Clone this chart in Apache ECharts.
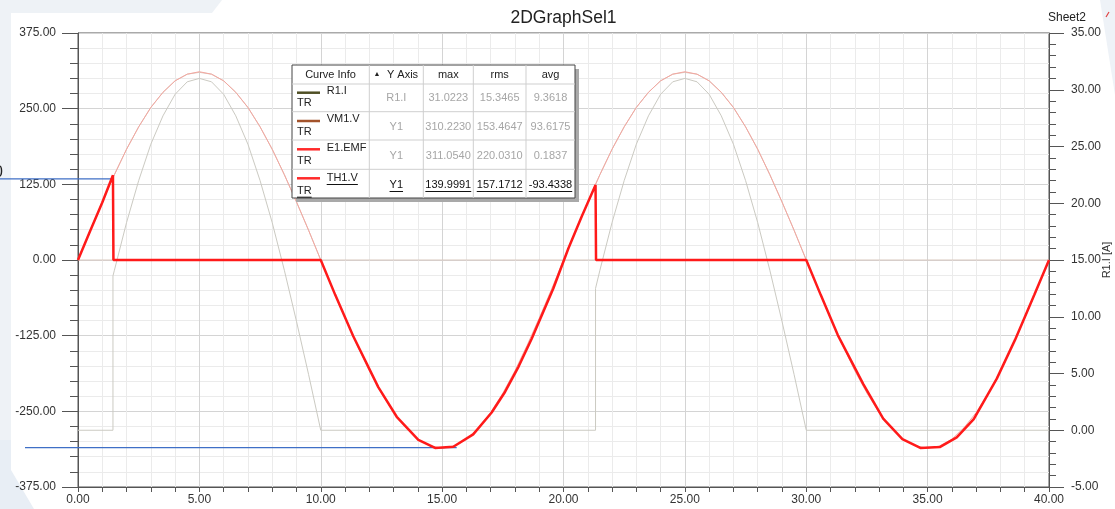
<!DOCTYPE html>
<html>
<head>
<meta charset="utf-8">
<script src="https://cdn.jsdelivr.net/npm/echarts@6/dist/echarts.min.js"></script>
<style>
  html, body { margin: 0; padding: 0; background: #ffffff; }
  #chart { width: 1115px; height: 509px; }
</style>
</head>
<body>
<div id="chart"></div>
<script>
const FONT = '"Liberation Sans", Arial, sans-serif';

// Source EMF E1 (V) over time (ms)
const emfTime = [0,0.5,1,1.5,2,2.5,3,3.5,4,4.5,5,5.5,6,6.5,7,7.5,8,8.5,9,9.5,10,
  10.5,11,11.5,12,12.5,13,13.5,14,14.5,15,15.5,16,16.5,17,17.5,18,18.5,19,19.5,20,
  20.5,21,21.5,22,22.5,23,23.5,24,24.5,25,25.5,26,26.5,27,27.5,28,28.5,29,29.5,30,
  30.5,31,31.5,32,32.5,33,33.5,34,34.5,35,35.5,36,36.5,37,37.5,38,38.5,39,39.5,40];
const emfVolt = [0,49,96,141,183,220,252,277,296,307,311,307,296,277,252,220,183,141,96,49,0,
  -49,-96,-141,-183,-220,-252,-277,-296,-307,-311,-307,-296,-277,-252,-220,-183,-141,-96,-49,0,
  49,96,141,183,220,252,277,296,307,311,307,296,277,252,220,183,141,96,49,0,
  -49,-96,-141,-183,-220,-252,-277,-296,-307,-311,-307,-296,-277,-252,-220,-183,-141,-96,-49,0];

// Conduction samples shared by VM1.V and R1.I
const condTime = [0,1.44,1.44,1.5,2,2.5,3,3.5,4,4.5,5,5.5,6,6.5,7,7.5,8,8.5,9,9.5,10,
  21.32,21.32,21.5,22,22.5,23,23.5,24,24.5,25,25.5,26,26.5,27,27.5,28,28.5,29,29.5,30,40];
const vmVolt = [0,0,136,141,183,220,252,277,296,307,310,307,296,277,252,220,183,141,96,49,0,
  0,125,141,183,220,252,277,296,307,310,307,296,277,252,220,183,141,96,49,0,0];
const r1Amp = [0,0,13.6,14.1,18.3,22.0,25.2,27.7,29.6,30.7,31.0,30.7,29.6,27.7,25.2,22.0,18.3,14.1,9.6,4.9,0,
  0,12.5,14.1,18.3,22.0,25.2,27.7,29.6,30.7,31.0,30.7,29.6,27.7,25.2,22.0,18.3,14.1,9.6,4.9,0,0];

// Thyristor TH1 voltage
const thTime = [0,0.5,1.0,1.44,1.46,10.0,10.6,11.34,12.37,13.13,14.02,14.71,15.46,16.28,17.04,17.59,18.15,18.69,19.58,20.2,20.75,21.32,21.34,
  30.0,30.6,31.3,32.35,33.17,33.96,34.7,35.5,36.2,36.9,37.85,38.6,39.4,40];
const thVolt = [0,48,95,140,0,0,-58,-126,-210,-259,-297,-310.5,-308.5,-288,-252,-218,-176,-130,-47,19,72,124,0,
  0,-58,-124,-205,-262,-296,-310.5,-309,-293,-263,-196,-132,-57,0];

// Horizontal cursors (value, end time)
const cursorLevels = [134, -310];
const cursorEndTime = [1.44, 15.6];

// Curve info table
const curveNames = ['R1.I', 'VM1.V', 'E1.EMF', 'TH1.V'];
const curveColors = ['#4f4f24', '#a3532b', '#ff2a2a', '#ff2a2a'];
const curveAxis = ['R1.I', 'Y1', 'Y1', 'Y1'];
const curveMax = ['31.0223', '310.2230', '311.0540', '139.9991'];
const curveRms = ['15.3465', '153.4647', '220.0310', '157.1712'];
const curveAvg = ['9.3618', '93.6175', '0.1837', '-93.4338'];
const tableHeaders = ['Curve Info', 'Y Axis', 'max', 'rms', 'avg'];

const pairs = (t, v) => t.map((x, i) => [x, v[i]]);

const chart = echarts.init(document.getElementById('chart'), null, { renderer: 'canvas' });

const axisText = { color: '#333', fontSize: 12, fontFamily: FONT };
const fmt2 = v => v.toFixed(2);

const option = {
  animation: false,
  backgroundColor: '#ffffff',
  textStyle: { fontFamily: FONT },
  grid: { left: 78, right: 66, top: 33, bottom: 22, containLabel: false, outerBoundsMode: 'none',
    show: true, borderColor: '#555', borderWidth: 1, backgroundColor: 'transparent' },
  xAxis: {
    type: 'value', min: 0, max: 40, interval: 5,
    axisLine: { show: true, onZero: false, lineStyle: { color: '#555' } },
    axisTick: { show: true, length: 5, lineStyle: { color: '#555' } },
    minorTick: { show: true, splitNumber: 5, length: 5, lineStyle: { color: '#555' } },
    axisLabel: Object.assign({ margin: 7, formatter: fmt2 }, axisText),
    splitLine: { show: true, lineStyle: { color: '#d4d4d4', width: 1 } },
    minorSplitLine: { show: true, lineStyle: { color: '#ebebeb', width: 1 } }
  },
  yAxis: [
    {
      type: 'value', min: -375, max: 375, interval: 125, position: 'left',
      axisLine: { show: true, onZero: false, lineStyle: { color: '#555' } },
      axisTick: { show: true, length: 16, lineStyle: { color: '#555' } },
      minorTick: { show: true, splitNumber: 5, length: 8, lineStyle: { color: '#555' } },
      axisLabel: Object.assign({ margin: 22, formatter: fmt2 }, axisText),
      splitLine: { show: true, lineStyle: { color: '#d4d4d4', width: 1 } },
      minorSplitLine: { show: true, lineStyle: { color: '#ebebeb', width: 1 } }
    },
    {
      type: 'value', min: -5, max: 35, interval: 5, position: 'right',
      name: 'R1.I [A]', nameLocation: 'middle', nameGap: 52, nameRotate: 90, nameMoveOverlap: false,
      nameTextStyle: { color: '#333', fontSize: 11, fontFamily: FONT },
      axisLine: { show: true, onZero: false, lineStyle: { color: '#555' } },
      axisTick: { show: true, length: 15, lineStyle: { color: '#555' } },
      minorTick: { show: true, splitNumber: 5, length: 7, lineStyle: { color: '#555' } },
      axisLabel: Object.assign({ margin: 22, formatter: fmt2 }, axisText),
      splitLine: { show: false }
    }
  ],
  series: [
    { name: 'VM1.V', type: 'line', yAxisIndex: 0, data: pairs(condTime, vmVolt), showSymbol: false,
      lineStyle: { color: '#d9c8bf', width: 1 }, z: 2 },
    { name: 'E1.EMF', type: 'line', yAxisIndex: 0, data: pairs(emfTime, emfVolt), showSymbol: false,
      lineStyle: { color: '#f4a7a0', width: 1 }, z: 3 },
    { name: 'R1.I', type: 'line', yAxisIndex: 1, data: pairs(condTime, r1Amp), showSymbol: false,
      lineStyle: { color: '#cbcac2', width: 1 }, z: 3 },
    { name: 'TH1.V', type: 'line', yAxisIndex: 0, data: pairs(thTime, thVolt), showSymbol: false,
      lineStyle: { color: '#ff1a1a', width: 2.5 }, z: 5 }
  ]
};

chart.setOption(option);

// Text width helper for underlines
const measureCtx = document.createElement('canvas').getContext('2d');
function textWidth(str, size) {
  measureCtx.font = size + 'px ' + FONT;
  return measureCtx.measureText(str).width;
}

function txt(str, x, y, opts) {
  opts = opts || {};
  return {
    type: 'text', z: opts.z || 101, silent: true,
    style: {
      text: str, x: x, y: y,
      fill: opts.color || '#222',
      fontSize: opts.size || 11, fontFamily: FONT,
      fontWeight: opts.weight || 'normal',
      textAlign: opts.align || 'left', align: opts.align || 'left',
      textVerticalAlign: 'middle', verticalAlign: 'middle'
    }
  };
}
function seg(x1, y1, x2, y2, color, w, z) {
  return { type: 'line', z: z || 101, silent: true,
    shape: { x1: x1, y1: y1, x2: x2, y2: y2 },
    style: { stroke: color, lineWidth: w || 1 } };
}

const g = [];

// Page backdrop
g.push({ type: 'polygon', z: -10, silent: true,
  shape: { points: [[0, 0], [222, 0], [212, 13], [11, 13], [11, 509], [0, 509]] },
  style: { fill: '#eef2f6' } });
g.push({ type: 'polygon', z: -10, silent: true,
  shape: { points: [[0, 440], [11, 440], [11, 470], [34, 509], [0, 509]] },
  style: { fill: '#e8eef5' } });
g.push({ type: 'polygon', z: -10, silent: true,
  shape: { points: [[1100, 0], [1115, 0], [1115, 95]] },
  style: { fill: '#eef2f7' } });

// Titles
g.push(txt('2DGraphSel1', 563.5, 18, { size: 17.5, align: 'center', color: '#222', z: 10 }));
g.push(txt('Sheet2', 1048, 18, { size: 12, color: '#222', z: 10 }));
g.push(seg(1106, 17, 1109, 12, '#e04040', 1.2, 10));
g.push(txt('0', -6, 173, { size: 16, color: '#222', z: 10 }));

// Cursor lines
const c0 = chart.convertToPixel({ xAxisIndex: 0, yAxisIndex: 0 }, [cursorEndTime[0], cursorLevels[0]]);
const c1 = chart.convertToPixel({ xAxisIndex: 0, yAxisIndex: 0 }, [cursorEndTime[1], cursorLevels[1]]);
g.push(seg(0, c0[1], c0[0], c0[1], '#3f6fc6', 1.3, 4));
g.push(seg(25, c1[1], c1[0], c1[1], '#3f6fc6', 1.3, 4));

// Curve info table
const tx = 292, ty = 65, tw = 283, th = 133;
const rowLines = [84, 111.7, 140, 169.3];
const colLines = [369.3, 423.3, 473.3, 526];
const colCenters = [330.5, 396.3, 448.3, 499.7, 550.5];
g.push({ type: 'rect', z: 99, silent: true, shape: { x: tx + 4, y: ty + 4, width: tw, height: th },
  style: { fill: '#a9a9a9' } });
g.push({ type: 'rect', z: 100, silent: true, shape: { x: tx, y: ty, width: tw, height: th },
  style: { fill: '#ffffff', stroke: '#444', lineWidth: 1 } });
rowLines.forEach(y => g.push(seg(tx, y, tx + tw, y, '#cfcfcf', 1)));
colLines.forEach(x => g.push(seg(x, ty, x, ty + th, '#cfcfcf', 1)));

g.push(txt(tableHeaders[0], colCenters[0], 75, { align: 'center' }));
g.push(txt('\u25B2', 377, 74, { size: 7, align: 'center' }));
g.push(txt(tableHeaders[1], 402.5, 75, { align: 'center' }));
g.push(txt(tableHeaders[2], colCenters[2], 75, { align: 'center' }));
g.push(txt(tableHeaders[3], colCenters[3], 75, { align: 'center' }));
g.push(txt(tableHeaders[4], colCenters[4], 75, { align: 'center' }));

const lineY = [92.7, 121, 149.3, 178.3];
const nameY = [90.5, 119.3, 148.3, 178];
const trY = [103.3, 132.3, 161, 190.7];
const valY = [97.7, 126.7, 156, 185];
curveNames.forEach((name, i) => {
  const active = i === curveNames.length - 1;
  const vColor = active ? '#111' : '#a6a6a6';
  g.push(seg(297, lineY[i], 320, lineY[i], curveColors[i], 2.5));
  g.push(txt(name, 326.7, nameY[i]));
  g.push(txt('TR', 297, trY[i]));
  const cells = [curveAxis[i], curveMax[i], curveRms[i], curveAvg[i]];
  cells.forEach((c, j) => {
    g.push(txt(c, colCenters[j + 1], valY[i], { align: 'center', color: vColor }));
    if (active) {
      const w = textWidth(c, 11);
      g.push(seg(colCenters[j + 1] - w / 2, valY[i] + 6.5, colCenters[j + 1] + w / 2, valY[i] + 6.5, '#111', 1));
    }
  });
  if (active) {
    g.push(seg(326.7, nameY[i] + 6.5, 326.7 + textWidth(name, 11), nameY[i] + 6.5, '#111', 1));
    g.push(seg(297, trY[i] + 6.5, 297 + textWidth('TR', 11), trY[i] + 6.5, '#111', 1));
  }
});

chart.setOption({ graphic: { elements: g } });
</script>
</body>
</html>
